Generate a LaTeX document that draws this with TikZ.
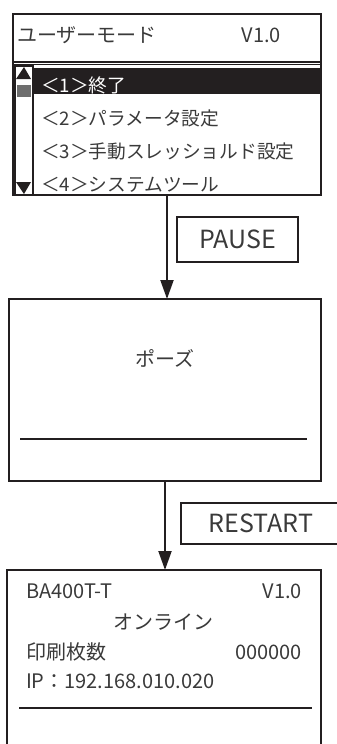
\documentclass[tikz,border=0pt]{standalone}
\usepackage{fontspec}
\setmainfont{Noto Sans CJK JP}
\usetikzlibrary{arrows.meta}

\definecolor{lcdink}{HTML}{231F20}
\definecolor{lcdtext}{HTML}{3A3A3A}
\definecolor{thumbgray}{HTML}{6E6E6E}

\begin{document}
\begin{tikzpicture}[x=1pt, y=-1pt, line width=2pt,
        screen/.style={draw=lcdink, anchor=north west, inner sep=0pt, outer sep=0pt},
        txt/.style={inner sep=0pt, text=lcdtext, font=\fontsize{20}{20}\selectfont},
        item/.style={txt, anchor=base west, font=\fontsize{18.7}{18.7}\selectfont},
        keybox/.style={draw=lcdink, anchor=north west, inner sep=0pt, outer sep=0pt, text=lcdtext, font=\fontsize{25}{25}\selectfont},
        flow/.style={draw=lcdink, -{Triangle[length=19pt, width=13pt]}}]
    \clip (0,0) rectangle (337,744);

    \node[screen, minimum width=308pt, minimum height=181pt] (menu) at (13,14) {};
    \node[txt, anchor=base west] (mtitle) at (16,42) {ユーザーモード};
    \node[txt, anchor=base east] (mver) at (282,42) {V1.0};
    \draw[lcdink] (14,61.5) -- (320,61.5);
    \draw[lcdink, line width=0.7pt] (14,64.5) -- (320,64.5);
    \fill[lcdink] (33,68) rectangle (320,94);
    \draw[lcdink] (14.5,66) rectangle (32.5,195);
    \fill[lcdink] (16,79) -- (24,67) -- (31,79) -- cycle;
    \fill[lcdink] (16,182) -- (24,194) -- (31,182) -- cycle;
    \fill[thumbgray] (17,85) rectangle (31,97);
    \node[item, text=white] (item1) at (40,92) {＜1＞終了};
    \node[item] (item2) at (40,125) {＜2＞パラメータ設定};
    \node[item] (item3) at (40,158) {＜3＞手動スレッショルド設定};
    \node[item] (item4) at (40,191) {＜4＞システムツール};

    \node[keybox, minimum width=121pt, minimum height=45pt] (pausekey) at (177,217) {PAUSE};

    \node[screen, minimum width=312pt, minimum height=182pt] (pause) at (9,299) {};
    \node[txt, anchor=base] (ptext) at (165,366) {ポーズ};
    \draw[lcdink] (20,439) -- (307,439);

    \node[keybox, minimum width=160pt, minimum height=41pt] (restartkey) at (181,503) {RESTART};

    \node[screen, minimum width=314pt, minimum height=200pt] (online) at (7,570) {};
    \node[txt, anchor=base west] (model) at (25,598) {BA400T-T};
    \node[txt, anchor=base east] (over) at (303,598) {V1.0};
    \node[txt, anchor=base] (ostate) at (163,629) {オンライン};
    \node[txt, anchor=base west] (count) at (25,659) {印刷枚数};
    \node[txt, anchor=base east] (cval) at (303,659) {000000};
    \node[txt, anchor=base west] (ip) at (25,688) {IP：192.168.010.020};
    \draw[lcdink] (19,708) -- (312,708);

    \draw[flow] (menu.south) -- (menu.south |- pause.north);
    \draw[flow] (pause.south) -- (pause.south |- online.north);
\end{tikzpicture}
\end{document}
